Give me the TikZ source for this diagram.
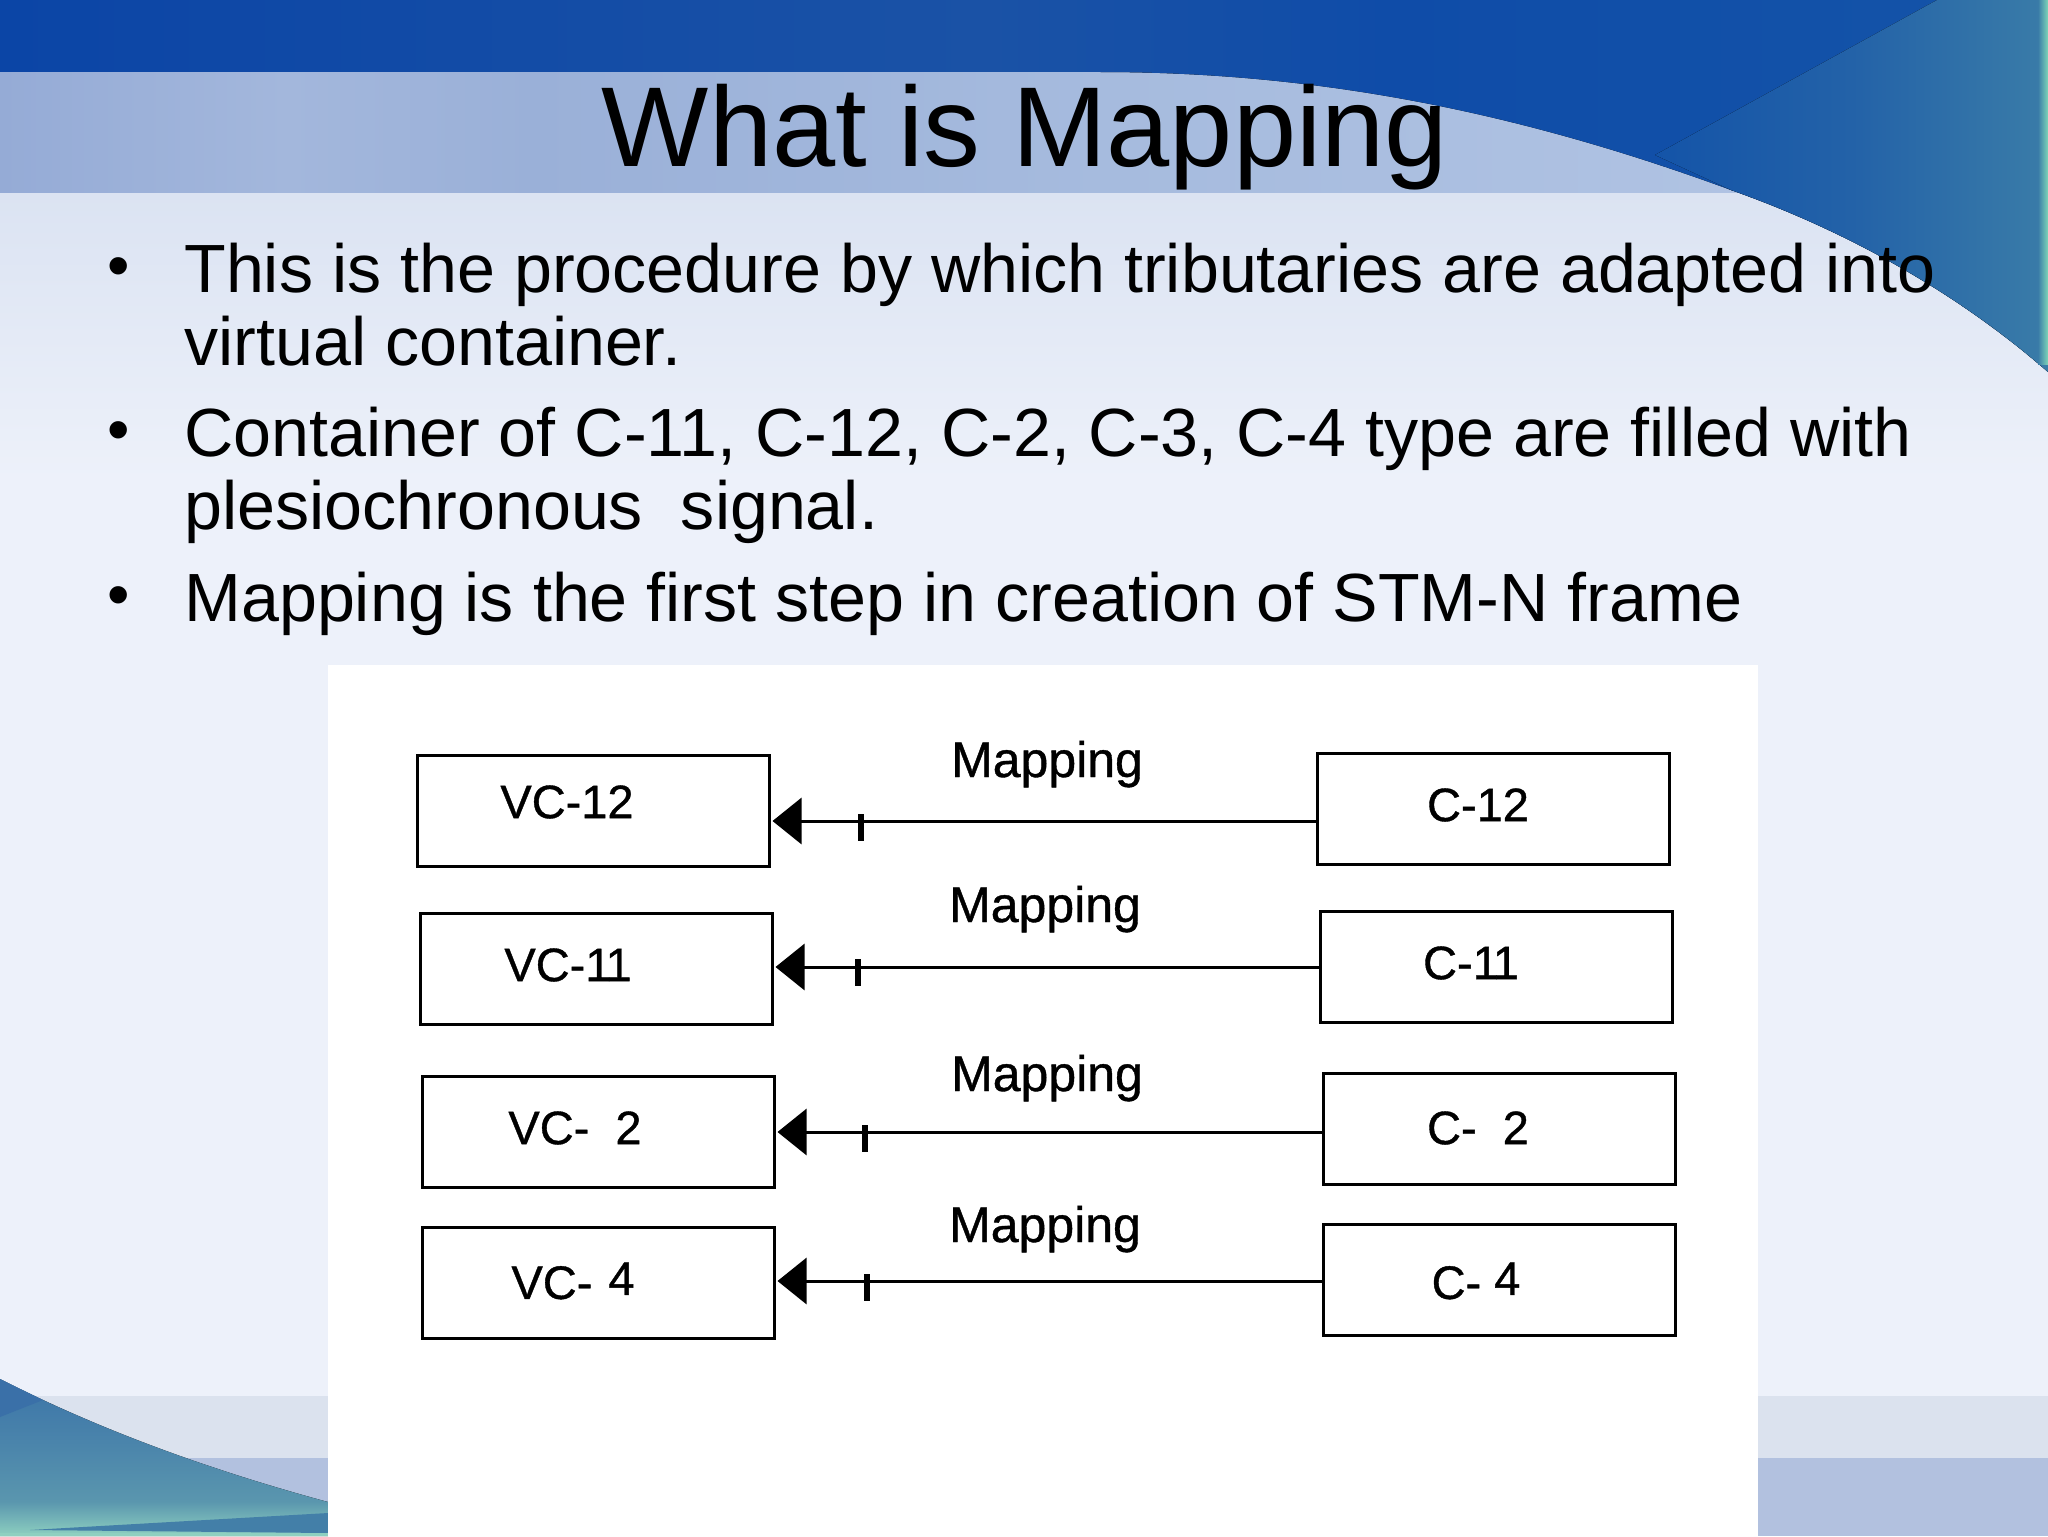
\documentclass[tikz,border=0pt]{standalone}
\usepackage{fontspec}
\setmainfont{Liberation Sans}
\newfontfamily\scanfont[FakeBold=0.8]{Liberation Sans}
\usetikzlibrary{arrows.meta}
\definecolor{topblue}{HTML}{0B45A6}
\definecolor{topmid}{HTML}{1A52A6}
\definecolor{topdeep}{HTML}{0F4CA8}
\definecolor{topright}{HTML}{1454A8}
\definecolor{hatchblue}{HTML}{2362A8}
\definecolor{tealblue}{HTML}{3A7CA8}
\definecolor{mintedge}{HTML}{7FD6B8}
\definecolor{bandleft}{HTML}{95ABD6}
\definecolor{bandglow}{HTML}{A3B7DC}
\definecolor{banddip}{HTML}{9AB0D8}
\definecolor{bandmid}{HTML}{A6BBDE}
\definecolor{bandright}{HTML}{B4C6E5}
\definecolor{paletop}{HTML}{DBE3F2}
\definecolor{palelow}{HTML}{EDF1FA}
\definecolor{footlight}{HTML}{DBE2EE}
\definecolor{footblue}{HTML}{B2C1DF}
\definecolor{swoopdark}{HTML}{3A70A8}
\definecolor{swooptop}{HTML}{3B74A8}
\definecolor{swoopmid}{HTML}{4A84AB}
\definecolor{swooplow}{HTML}{5A96AE}
\definecolor{swoopstripe}{HTML}{437FA8}
\definecolor{swoopmint}{HTML}{8ED0C0}
\pgfdeclarehorizontalshading{topshade}{100bp}{color(0bp)=(topblue); color(25bp)=(topblue); color(49bp)=(topmid); color(59bp)=(topdeep); color(75bp)=(topright); color(100bp)=(topright)}
\pgfdeclarehorizontalshading{bandshade}{100bp}{color(0bp)=(bandleft); color(25bp)=(bandleft); color(32bp)=(bandglow); color(38bp)=(banddip); color(52bp)=(bandmid); color(75bp)=(bandright); color(100bp)=(bandright)}
\pgfdeclareverticalshading{swoopshade}{100bp}{color(0bp)=(swoopmint); color(25bp)=(swoopmint); color(36bp)=(swooplow); color(55bp)=(swoopmid); color(75bp)=(swooptop); color(100bp)=(swooptop)}
\tikzset{
	mapbox/.style = {draw = black, line width = 1.5pt, fill = white, minimum width = 176pt, minimum height = 55.5pt, inner sep = 0pt},
	boxtext/.style = {font = \scanfont\fontsize{23.5}{26}\selectfont, inner sep = 0pt},
	maptext/.style = {font = \scanfont\fontsize{25}{28}\selectfont, inner sep = 0pt, anchor = base},
	mapline/.style = {line width = 1.5pt, -{Triangle[length = 14.5pt, width = 23pt]}, shorten > = 1pt},
	tickmark/.style = {fill = black, inner sep = 0pt, minimum width = 3pt, minimum height = 13.5pt},
	bullettext/.style = {font = \fontsize{34.1}{36.5}\selectfont, align = left, anchor = north west, inner sep = 0pt},
	bulletdot/.style = {font = \fontsize{32}{36}\selectfont, anchor = base, inner sep = 0pt}
}
\begin{document}
\begin{tikzpicture}[x = 0.5pt, y = -0.5pt]
	\useasboundingbox (0, 0) rectangle (2048, 1536);
	% background
	\fill[top color = paletop, bottom color = palelow] (0, 192) rectangle (2048, 480);
	\fill[palelow] (0, 480) rectangle (2048, 1396);
	\fill[shading = bandshade] (0, 72) rectangle (2048, 192);
	\fill[footlight] (0, 1396) rectangle (2048, 1458);
	\fill[footblue] (0, 1458) rectangle (2048, 1536);
	\fill[shading = topshade] (0, 0) -- (2048, 0) -- (2048, 372) .. controls (1960, 295) and (1850, 232) .. (1731, 190) .. controls (1500, 105) and (1300, 72) .. (1100, 72) -- (0, 72) -- cycle;
	\fill[left color = topright, right color = tealblue, middle color = hatchblue] (1937, 0) -- (2048, 0) -- (2048, 372) .. controls (1960, 295) and (1850, 232) .. (1731, 190) -- (1655, 155) -- cycle;
	\fill[left color = tealblue, right color = mintedge] (2038, 0) rectangle (2048, 364);
	\fill[shading = swoopshade] (0, 1379) .. controls (100, 1430) and (210, 1470) .. (328, 1502) -- (328, 1536) -- (0, 1536) -- cycle;
	\fill[swoopdark] (0, 1379) -- (43, 1400) -- (0, 1417) -- cycle;
	\fill[swoopstripe] (30, 1530) -- (328, 1513) -- (328, 1533) -- cycle;
	\fill[swoopmint] (0, 1533) rectangle (328, 1536);
	\fill[white] (328, 665) rectangle (1758, 1536);
	% title and text
	\node[font = \fontsize{56.8}{60}\selectfont, anchor = base, inner sep = 0pt] (title) at (1025, 166) {What is Mapping};
	\node[bulletdot] (dot1) at (119, 287) {•};
	\node[bulletdot] (dot2) at (119, 451) {•};
	\node[bulletdot] (dot3) at (119, 616) {•};
	\node[bullettext] (item1) at (184, 243) {This is the procedure by which tributaries are adapted into\\virtual container.};
	\node[bullettext] (item2) at (184, 407) {Container of C-11, C-12, C-2, C-3, C-4 type are filled with\\plesiochronous\ \ signal.};
	\node[bullettext] (item3) at (184, 572) {Mapping is the first step in creation of STM-N frame};
	% boxes
	\node[mapbox] (vc12) at (593, 811) {};
	\node[mapbox] (c12) at (1493, 809) {};
	\node[mapbox] (vc11) at (596, 969) {};
	\node[mapbox] (c11) at (1496, 967) {};
	\node[mapbox] (vc2) at (598, 1132) {};
	\node[mapbox] (c2) at (1499, 1129) {};
	\node[mapbox] (vc4) at (598, 1283) {};
	\node[mapbox] (c4) at (1499, 1280) {};
	\node[boxtext] (vc12text) at (567, 802) {VC-12};
	\node[boxtext] (c12text) at (1478, 805) {C-12};
	\node[boxtext] (vc11text) at (568, 965) {VC-1\kern-3pt 1};
	\node[boxtext] (c11text) at (1471, 963) {C-1\kern-3pt 1};
	\node[boxtext] (vc2text) at (575, 1128) {VC-\ \ 2};
	\node[boxtext] (c2text) at (1478, 1128) {C-\ \ 2};
	\node[boxtext] (vc4text) at (573, 1281) {VC-\hspace{8pt}\raisebox{2pt}{4}};
	\node[boxtext] (c4text) at (1476, 1281) {C-\ \raisebox{2pt}{4}};
	% connectors
	\draw[mapline] ([yshift = -6pt]c12.west) -- ([yshift = -5pt]vc12.east);
	\draw[mapline] (c11.west) -- ([yshift = 1pt]vc11.east);
	\draw[mapline] ([yshift = -1.5pt]c2.west) -- (vc2.east);
	\draw[mapline] ([yshift = -0.5pt]c4.west) -- ([yshift = 1pt]vc4.east);
	\node[tickmark] (tick12) at (861, 827) {};
	\node[tickmark] (tick11) at (858, 972) {};
	\node[tickmark] (tick2) at (865, 1138) {};
	\node[tickmark] (tick4) at (867, 1287) {};
	\node[maptext] (map12) at (1047, 777) {Mapping};
	\node[maptext] (map11) at (1045, 922) {Mapping};
	\node[maptext] (map2) at (1047, 1091) {Mapping};
	\node[maptext] (map4) at (1045, 1242) {Mapping};
\end{tikzpicture}
\end{document}
